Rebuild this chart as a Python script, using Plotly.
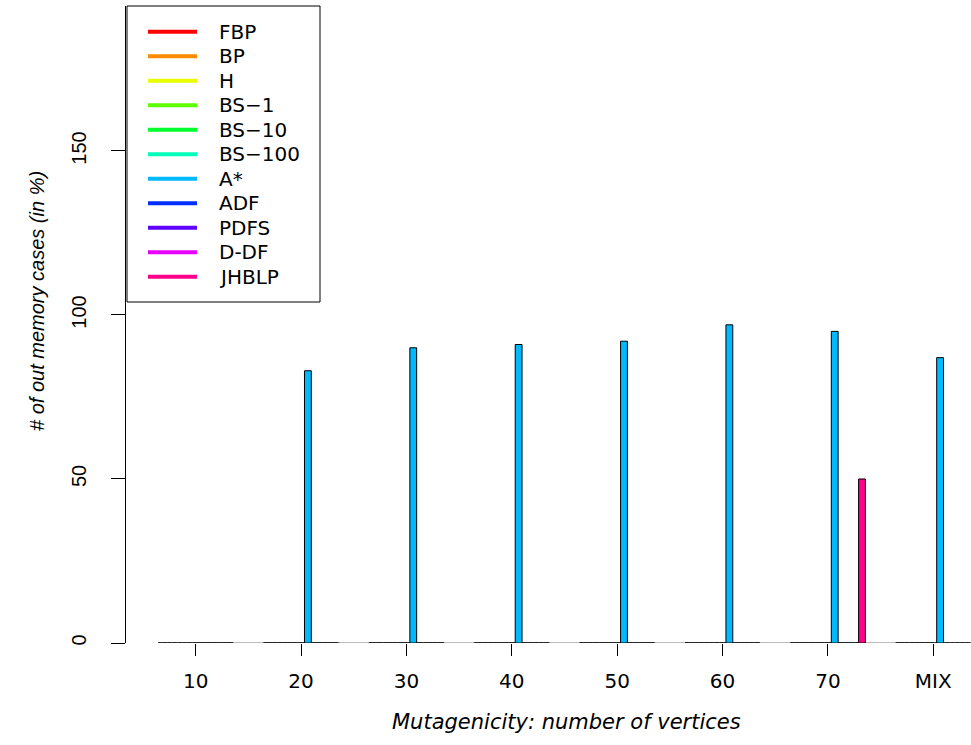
import plotly.graph_objects as go

categories = ["10", "20", "30", "40", "50", "60", "70", "MIX"]
series_names = ["FBP", "BP", "H", "BS\u22121", "BS\u221210", "BS\u2212100", "A*", "ADF", "PDFS", "D-DF", "JHBLP"]
series_colors = ["#FF0000", "#FF8B00", "#E8FF00", "#5DFF00", "#00FF2E", "#00FFB9",
                 "#00B9FF", "#002EFF", "#5D00FF", "#E800FF", "#FF008B"]

FBP = [0, 0, 0, 0, 0, 0, 0, 0]
BP = [0, 0, 0, 0, 0, 0, 0, 0]
H = [0, 0, 0, 0, 0, 0, 0, 0]
BS_1 = [0, 0, 0, 0, 0, 0, 0, 0]
BS_10 = [0, 0, 0, 0, 0, 0, 0, 0]
BS_100 = [0, 0, 0, 0, 0, 0, 0, 0]
A_STAR = [0, 83, 90, 91, 92, 97, 95, 87]
ADF = [0, 0, 0, 0, 0, 0, 0, 0]
PDFS = [0, 0, 0, 0, 0, 0, 0, 0]
D_DF = [0, 0, 0, 0, 0, 0, 0, 0]
JHBLP = [0, 0, 0, 0, 0, 0, 50, 0]

y_ticks = [0, 50, 100, 150]
x_title = "Mutagenicity: number of vertices"
y_title = "# of out memory cases (in %)"

series_values = [FBP, BP, H, BS_1, BS_10, BS_100, A_STAR, ADF, PDFS, D_DF, JHBLP]

FONT_H = "DejaVu Sans, Verdana, sans-serif"
FONT_V = "Liberation Sans, Arial, Helvetica, sans-serif"
BARGAP = 0.288

W, HGT = 971, 745
ML, MR, MT, MB = 126, 0, 6, 102
PW, PH = W - ML - MR, HGT - MT - MB


def px_x(px):
    return (px - ML) / PW


def px_y(py):
    return (HGT - MB - py) / PH


fig = go.Figure()
for name, color, vals in zip(series_names, series_colors, series_values):
    fig.add_trace(go.Bar(
        x=categories, y=vals, name=name, showlegend=False,
        marker=dict(color=color, line=dict(color="black", width=1)),
    ))

shapes = []
annotations = []
gw = 1 - BARGAP
# zero-height bars appear as dashed lines across each group, axis line between first/last tick
for i in range(len(categories)):
    shapes.append(dict(type="line", xref="x", yref="y", x0=i - gw / 2, x1=i + gw / 2, y0=0, y1=0,
                       line=dict(color="#333333", width=1, dash="3px,2px"), layer="below"))
shapes.append(dict(type="line", xref="x", yref="y", x0=0, x1=len(categories) - 1, y0=0, y1=0,
                   line=dict(color="#777777", width=1), layer="below"))

# legend box (R style: line samples + labels)
shapes.append(dict(type="rect", xref="paper", yref="paper", x0=px_x(127), x1=px_x(320),
                   y0=px_y(302), y1=px_y(6), fillcolor="white",
                   line=dict(color="black", width=1), layer="above"))
row0, row_step = 31.7, 24.5
for k, (name, color) in enumerate(zip(series_names, series_colors)):
    yc = px_y(row0 + k * row_step)
    shapes.append(dict(type="line", xref="paper", yref="paper", x0=px_x(148), x1=px_x(197),
                       y0=yc, y1=yc, line=dict(color=color, width=4), layer="above"))
    annotations.append(dict(text=name, xref="paper", yref="paper", x=px_x(217), y=yc,
                            xanchor="left", yanchor="middle", showarrow=False,
                            font=dict(family=FONT_H, size=20, color="black")))

annotations += [
    dict(text=x_title, xref="paper", yref="paper", x=px_x(566), y=px_y(722),
         xanchor="center", yanchor="middle", showarrow=False,
         font=dict(family=FONT_H, size=21, style="italic")),
    dict(text=y_title, xref="paper", yref="paper", x=px_x(37), y=px_y(301),
         xanchor="center", yanchor="middle", showarrow=False, textangle=-90,
         font=dict(family=FONT_V, size=20, style="italic")),
]

fig.update_layout(
    width=W, height=HGT,
    margin=dict(l=ML, r=MR, t=MT, b=MB, pad=0),
    paper_bgcolor="white", plot_bgcolor="white",
    barmode="group", bargap=BARGAP, bargroupgap=0,
    showlegend=False,
    font=dict(family=FONT_H, size=20, color="black"),
    xaxis=dict(type="category", range=[-0.6615, 7.358], showgrid=False, zeroline=False,
               showline=False, ticks="outside", ticklen=12, tickcolor="black", tickwidth=1,
               tickfont=dict(family=FONT_H, size=20), ticklabelstandoff=8),
    yaxis=dict(range=[0, 194.2], tickvals=y_ticks, showgrid=False, zeroline=False,
               showline=True, linecolor="black", linewidth=1,
               ticks="outside", ticklen=14, tickcolor="black", tickwidth=1,
               tickangle=-90, tickfont=dict(family=FONT_V, size=20), ticklabelstandoff=17),
    shapes=shapes,
    annotations=annotations,
)

fig.write_html("out.html", config={"displayModeBar": False},
               post_script="document.body.style.margin='0';")
